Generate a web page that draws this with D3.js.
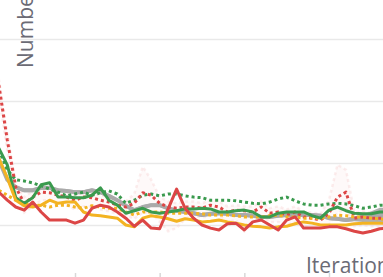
<!DOCTYPE html>
<html>
<head>
<meta charset="utf-8">
<script src="https://cdn.jsdelivr.net/npm/d3@7"></script>
<style>
  body { margin: 0; background: #fff; overflow: hidden; }
  svg { display: block; }
</style>
</head>
<body>
<div id="chart"></div>
<script>
// iterations shown in this window
var iterations = [1,2,3,4,5,6,7,8,9,10,11,12,13,14,15,16,17,18,19,20,21,22,23,24,25,26,27,28,29,30,31,32,33,34,35,36,37,38,39,40,41,42,43,44,45,46,47];
var xTicks = [10, 20, 30, 40];
var yTicks = [10, 20, 30, 40];

// series values
var redSolid = [15.3,14.0,12.9,12.4,13.7,12.1,10.8,10.8,10.8,10.3,10.8,12.7,13.2,12.9,12.1,11.1,9.8,10.8,9.5,9.4,12.6,15.8,12.7,11.1,10.0,9.5,9.2,10.2,10.3,9.2,10.5,10.8,10.0,9.2,10.8,11.3,9.5,9.5,9.5,9.7,9.7,9.4,9.0,8.7,9.0,9.4,9.5];
var redDotted = [32.6,23.7,16.1,13.5,14.5,15.3,15.2,14.8,14.5,14.0,14.5,14.4,14.0,13.7,13.2,12.9,13.5,15.2,14.8,13.5,12.9,12.7,12.9,12.9,12.7,13.2,12.9,12.1,12.4,12.3,12.1,12.9,11.9,12.1,11.6,12.1,11.3,11.1,10.8,11.9,14.5,15.3,11.1,11.3,11.1,11.1,11.1];
var redDotHi = [33.5,25.0,17.0,14.5,15.5,16.0,16.0,15.5,15.3,14.8,15.3,15.0,14.8,14.5,14.0,13.8,15.0,19.4,17.3,14.5,13.8,13.5,13.8,13.8,13.5,14.0,13.8,13.0,13.2,13.0,13.0,13.8,12.7,13.0,12.5,13.0,12.2,12.0,11.8,14.0,19.7,18.9,12.0,12.2,12.0,12.0,12.0];
var redDotLo = [31.0,22.0,14.8,12.0,13.0,14.0,14.0,13.5,13.2,12.5,13.0,13.0,12.5,12.2,11.8,11.5,11.0,12.0,12.0,10.5,9.0,9.5,11.0,11.5,11.2,11.5,11.5,10.5,10.8,9.0,10.5,11.5,10.5,10.5,10.0,10.5,9.8,9.5,9.5,10.0,12.0,12.5,9.8,10.0,9.8,9.8,9.8];
var greenSolid = [22.4,19.7,14.4,13.5,14.4,16.5,16.8,14.5,14.5,14.4,14.4,14.8,16.0,14.0,13.2,11.9,12.3,12.7,12.1,11.9,12.1,12.3,12.6,12.6,12.7,12.6,12.1,12.1,12.3,12.4,12.1,11.3,11.3,11.9,12.1,12.1,12.1,11.5,11.1,12.4,12.9,12.3,11.9,11.8,11.8,12.1,12.1];
var greenDotted = [22.1,18.9,17.3,17.1,16.8,16.3,15.8,15.3,14.7,15.0,15.3,14.8,15.2,15.5,15.0,13.5,14.0,14.8,15.0,14.7,15.0,15.0,14.7,14.5,14.4,14.0,14.0,14.0,13.9,13.7,13.5,13.4,13.7,14.2,14.5,13.9,13.4,13.2,13.2,13.4,13.5,13.4,13.1,12.7,12.9,13.2,13.2];
var graySolid = [20.5,17.3,16.1,15.6,15.6,16.0,16.0,15.6,15.5,15.3,15.3,15.6,15.3,14.7,14.0,13.1,12.4,12.9,13.2,13.2,12.7,12.3,12.1,11.9,11.6,11.8,11.9,11.8,11.6,11.6,11.5,11.3,11.3,11.5,11.6,11.6,11.6,11.6,11.5,11.1,11.0,10.8,11.0,11.1,11.3,11.6,11.6];
var grayHalf = [0.3,0.3,0.3,0.3,0.3,0.3,0.3,0.3,0.3,0.3,0.3,0.3,0.3,0.3,0.3,0.3,0.3,0.3,0.3,0.3,0.3,0.3,0.3,0.3,0.3,0.3,0.3,0.3,0.3,0.3,0.3,0.3,0.3,0.3,0.3,0.3,0.3,0.3,0.3,0.3,0.3,0.3,0.4,0.6,0.9,1.2,1.2];
var yellowSolid = [20.8,17.6,14.0,13.1,12.9,13.2,14.0,13.5,13.7,13.7,12.1,11.6,11.5,11.3,11.1,10.0,9.7,11.1,11.5,11.3,11.0,10.6,11.0,10.8,10.5,10.6,10.8,10.5,10.3,10.0,9.8,9.7,9.5,9.7,9.8,10.2,10.5,10.3,10.0,10.0,10.0,10.0,10.2,10.3,10.3,10.3,10.3];
var yellowDotted = [15.6,14.8,14.0,13.5,13.2,13.2,12.9,13.2,13.2,12.9,12.7,13.1,12.9,12.7,12.7,12.1,11.6,12.1,12.1,12.1,11.9,11.9,11.9,11.9,11.8,11.6,11.6,11.6,11.5,11.3,11.3,11.3,11.5,11.6,11.3,11.3,11.1,11.1,11.1,11.3,11.6,11.5,11.3,11.3,11.1,11.0,10.8];

var width = 383, height = 277;

var svg = d3.select("#chart").append("svg")
    .attr("width", width)
    .attr("height", height);

var x = d3.scaleLinear().domain([10, 40]).range([75, 329]);
var y = d3.scaleLinear().domain([0, 40]).range([287, 39]);

// horizontal grid lines
svg.append("g")
    .attr("class", "grid")
    .call(d3.axisLeft(y).tickValues(yTicks).tickSize(-width * 2).tickFormat(""))
    .call(function(g) {
        g.select(".domain").remove();
        g.selectAll("line").attr("stroke", "#e9e9e9").attr("stroke-width", 1.5);
    });

// little x ticks at the bottom
svg.append("g")
    .attr("transform", "translate(0,273)")
    .call(d3.axisBottom(x).tickValues(xTicks).tickSize(4).tickFormat(""))
    .call(function(g) {
        g.select(".domain").remove();
        g.selectAll("line").attr("stroke", "#d8d8d8").attr("stroke-width", 1.5);
    });

var line = d3.line()
    .x(function(d, i) { return x(iterations[i]); })
    .y(function(d) { return y(d); });

// pale band around the red dotted run
var band = d3.area()
    .x(function(d, i) { return x(iterations[i]); })
    .y0(function(d, i) { return y(redDotLo[i]); })
    .y1(function(d, i) { return y(redDotHi[i]); });
svg.append("path")
    .datum(redDotted)
    .attr("fill", "#f4b8b8")
    .attr("fill-opacity", 0.08)
    .attr("d", band);
[redDotHi, redDotLo].forEach(function(s) {
    svg.append("path")
        .datum(s)
        .attr("fill", "none")
        .attr("stroke", "#f6cccc")
        .attr("stroke-width", 2.5)
        .attr("stroke-dasharray", "3,3")
        .attr("opacity", 0.35)
        .attr("d", line);
});

// gray band
var grayArea = d3.area()
    .x(function(d, i) { return x(iterations[i]); })
    .y0(function(d, i) { return y(graySolid[i] - grayHalf[i]); })
    .y1(function(d, i) { return y(graySolid[i] + grayHalf[i]); });
svg.append("path")
    .datum(graySolid)
    .attr("fill", "#b0b0b0")
    .attr("d", grayArea);

var series = [
    {data: graySolid, color: "#aaaaaa", w: 4, dash: null},
    {data: greenDotted, color: "#3a9a4e", w: 3, dash: "3,3"},
    {data: redDotted, color: "#dc4646", w: 3, dash: "3,3"},
    {data: yellowDotted, color: "#f3b322", w: 3, dash: "3,3"},
    {data: greenSolid, color: "#3a9a4e", w: 3, dash: null},
    {data: yellowSolid, color: "#f3b322", w: 3, dash: null},
    {data: redSolid, color: "#dc4646", w: 3, dash: null}
];

series.forEach(function(s) {
    svg.append("path")
        .datum(s.data)
        .attr("fill", "none")
        .attr("stroke", s.color)
        .attr("stroke-width", s.w)
        .attr("stroke-linejoin", "round")
        .attr("stroke-dasharray", s.dash)
        .attr("d", line);
});

// axis titles (partly outside the window, as in the reference)
svg.append("text")
    .attr("transform", "translate(33,68) rotate(-90)")
    .attr("font-family", "Open Sans, sans-serif")
    .attr("font-size", 21)
    .attr("fill", "#6b6b75")
    .text("Number");

svg.append("text")
    .attr("x", 306)
    .attr("y", 273)
    .attr("font-family", "Open Sans, sans-serif")
    .attr("font-size", 21)
    .attr("fill", "#6b6b75")
    .text("Iterations");
</script>
</body>
</html>
